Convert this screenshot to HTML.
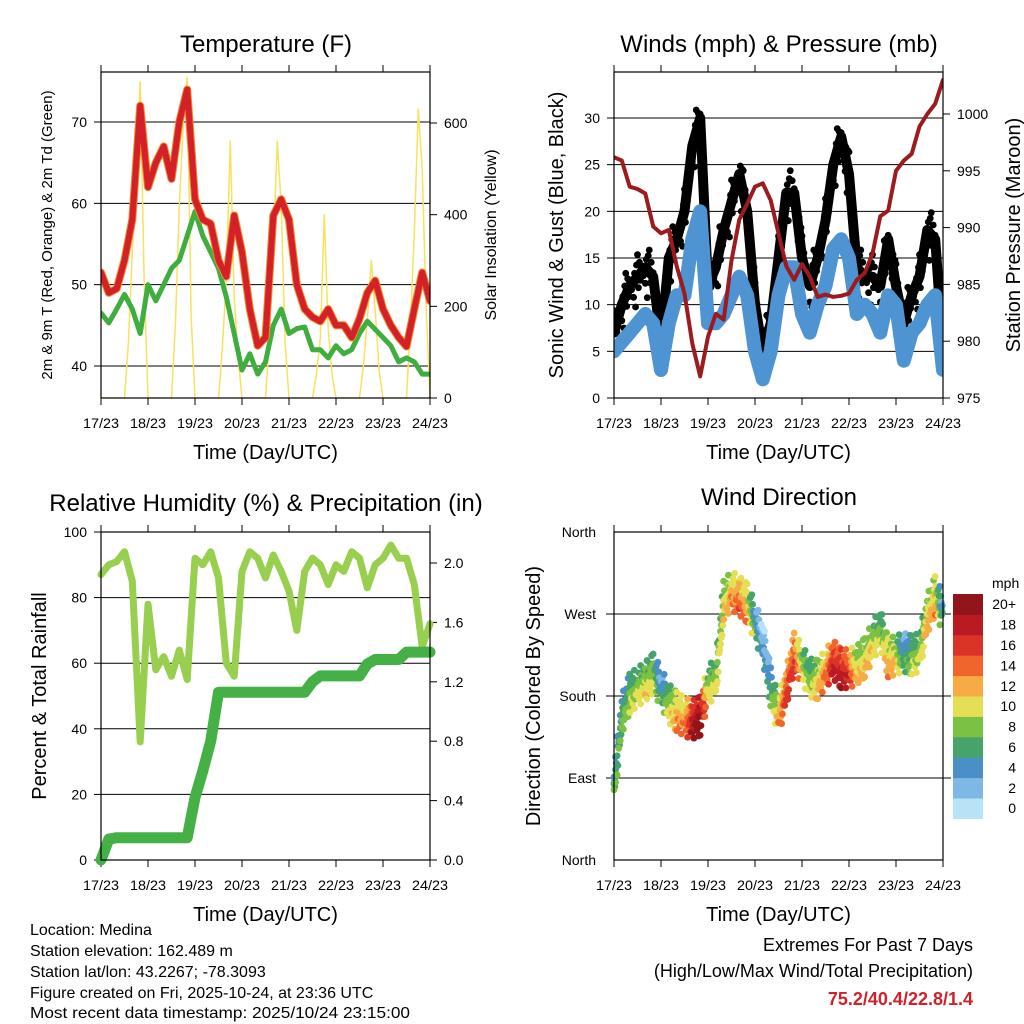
<!DOCTYPE html>
<html><head><meta charset="utf-8"><style>
html,body{margin:0;padding:0;background:#fff;}
svg{display:block;font-family:"Liberation Sans",sans-serif;}
</style></head><body>
<svg id="fig" width="1024" height="1024" viewBox="0 0 1024 1024" xmlns="http://www.w3.org/2000/svg">
<g id="g-p1"></g>
<g id="g-p2"></g>
<g id="g-p3"></g>
<g id="g-p4"></g>
<g font-size="16" fill="#000">
<text x="30" y="935">Location: Medina</text>
<text x="30" y="956">Station elevation: 162.489 m</text>
<text x="30" y="977">Station lat/lon: 43.2267; -78.3093</text>
<text x="30" y="998">Figure created on Fri, 2025-10-24, at 23:36 UTC</text>
<text x="30" y="1018" textLength="380" lengthAdjust="spacingAndGlyphs">Most recent data timestamp: 2025/10/24 23:15:00</text>
</g>
<g text-anchor="end">
<text x="973" y="951" font-size="18">Extremes For Past 7 Days</text>
<text x="973" y="977" font-size="18">(High/Low/Max Wind/Total Precipitation)</text>
<text x="973" y="1005" font-size="18" font-weight="bold" fill="#d0202a">75.2/40.4/22.8/1.4</text>
</g>
</svg>
<script>
// shared x categories (days, 4-hour steps 0..42)
const dayLabels=['17/23','18/23','19/23','20/23','21/23','22/23','23/23','24/23'];
// temperature (F), 4-hourly
const tempT=[51.5,49,49.5,53,58,72,62,65,67,63,70,74,60.5,58,57.5,53,51,58.5,54,47,42.5,43.5,58.5,60.5,58,50,47,46,45.5,47,45,45,43.5,45.8,49,50.5,47,45,43.5,42.4,47,51.5,48];
const tempTd=[46.5,45.3,47,48.8,47,44,50,48,50,52,53,56,59,56,54,52,48.5,44,39.5,41.5,39,40.5,45,47,44,44.6,44.8,42,42,41,42.5,41.5,42,44,45.5,44.5,43.5,42.5,40.5,41,40.5,39,39];
// solar insolation, 2-hourly (0..84)
const solar=[0,0,0,0,0,0,0,120,320,520,690,260,0,0,0,0,0,0,0,160,420,600,700,180,0,0,0,0,0,0,0,110,260,560,220,90,0,0,0,0,0,0,0,130,330,560,420,120,0,0,0,0,0,0,0,50,130,400,150,50,0,0,0,0,0,0,0,70,170,300,190,60,0,0,0,0,0,0,0,160,360,630,500,200,0];
// winds (mph), 4-hourly
const windSus=[5,6,7,8,9,8,3,8,11,11,17,20,8,8,9,11,13,11,5,2,5,11,14,14,9,7,10,12,16,17,15,9,10,9,7,11,10,4,7,8,10,11,3];
const windGust=[7,10,12,13,14,13,6,15,17,20,27,30,12,14,18,21,24,20,10,5,8,15,22,22,15,12,15,19,25,28,24,14,13,13,12,17,12,8,11,13,18,17,5];
// station pressure (mb)
const pressure=[996.2,995.9,993.6,993.4,993,990.1,989.5,989.8,986.6,984.2,979.8,976.9,980.4,982.4,981.9,987.1,990.7,992.1,993.6,993.9,992.4,989.5,986.6,985.4,986.8,985.7,983.9,984.1,983.9,984,984.2,985.4,986,987.7,991,991.5,995,995.9,996.5,998.9,1000,1000.9,1003];
// relative humidity (%) and precipitation (in)
const rh=[87,90,91,94,85,36,78,58,62,56,64,55,92,90,94,86,60,56,88,94,92,86,93,88,82,70,88,92,90,84,90,88,94,92,83,90,92,96,92,92,84,65,72];
const precip=[0,0.14,0.15,0.15,0.15,0.15,0.15,0.15,0.15,0.15,0.15,0.15,0.42,0.6,0.8,1.13,1.13,1.13,1.13,1.13,1.13,1.13,1.13,1.13,1.13,1.13,1.13,1.2,1.24,1.24,1.24,1.24,1.24,1.24,1.32,1.35,1.35,1.35,1.35,1.4,1.4,1.4,1.4];
// wind direction (deg)
const windDir=[84,160,183,190,196,205,190,172,163,157,154,158,192,200,285,296,290,282,262,240,190,158,190,228,215,200,198,210,220,210,210,214,222,240,255,222,225,228,225,228,270,290,272];
// colorbar
const speedLevels=['0','2','4','6','8','10','12','14','16','18','20+'];
const speedColors=['#b8e2f6','#7db9e4','#4a8fc7','#46a46b','#7bc143','#e5df55','#f6ab45','#f0652c','#dc3328','#ba1b23','#921519'];
const tempTicks=[40,50,60,70];
const solarTicks=[0,200,400,600];
const windTicks=[0,5,10,15,20,25,30];
const presTicks=[975,980,985,990,995,1000];
const rhTicks=[0,20,40,60,80,100];
const precipTicks=[0,0.4,0.8,1.2,1.6,2.0];
const dirTicks=[0,90,180,270,360];
const dirNames=['North','East','South','West','North'];

const NS='http://www.w3.org/2000/svg';
function mk(parent,tag,attrs,text){const e=document.createElementNS(NS,tag);for(const k in attrs)e.setAttribute(k,attrs[k]);if(text!==undefined)e.textContent=text;parent.appendChild(e);return e;}
function lin(d0,d1,r0,r1){return v=>r0+(v-d0)*(r1-r0)/(d1-d0);}

function axesFrame(g,P){
  const xs=lin(0,7,P.x0,P.x1);
  dayLabels.forEach((lab,i)=>{
    const x=xs(i);
    const tk=mk(g,'line',{x1:x,y1:P.y1,x2:x,y2:P.y1+7,stroke:'#000','stroke-width':1});
    
    
    const tt=mk(g,'line',{x1:x,y1:P.y0,x2:x,y2:P.y0-7,stroke:'#000','stroke-width':1});
    
    
    const t=mk(g,'text',{x:x,y:P.y1+30,'font-size':14,'text-anchor':'middle',textLength:36,lengthAdjust:'spacingAndGlyphs'},lab);
    
    
  });
  const xl=mk(g,'text',{x:(P.x0+P.x1)/2,y:P.y1+61,'font-size':20,'text-anchor':'middle'},'Time (Day/UTC)');
  
  
  return xs;
}
function frameRect(g,P){
  const r=mk(g,'rect',{x:P.x0,y:P.y0,width:P.x1-P.x0,height:P.y1-P.y0,fill:'none',stroke:'#000','stroke-width':1.2});
  
  
}
function leftAxis(g,P,ticks,sc,fmt,grid){
  ticks.forEach(v=>{
    const y=sc(v);
    if(grid&&y>P.y0+1&&y<P.y1-1){const gl=mk(g,'line',{x1:P.x0,y1:y,x2:P.x1,y2:y,stroke:'#000','stroke-width':1});
      
      }
    const tk=mk(g,'line',{x1:P.x0-7,y1:y,x2:P.x0,y2:y,stroke:'#000'});
    
    
    const t=mk(g,'text',{x:P.x0-14,y:y+5,'font-size':14,'text-anchor':'end'},fmt(v));
    
    
  });
}
function rightAxis(g,P,ticks,sc,fmt){
  ticks.forEach(v=>{
    const y=sc(v);
    const tk=mk(g,'line',{x1:P.x1,y1:y,x2:P.x1+7,y2:y,stroke:'#000'});
    
    
    const t=mk(g,'text',{x:P.x1+14,y:y+5,'font-size':14,'text-anchor':'start'},fmt(v));
    
    
  });
}
function title(g,x,y,s){const t=mk(g,'text',{x:x,y:y,'font-size':24,'text-anchor':'middle'},s);
  
  }
function vlabel(g,x,y,s,fs,name){const t=mk(g,'text',{x:x,y:y,'font-size':fs,'text-anchor':'middle',transform:'rotate(-90 '+x+' '+y+')'},s);
  
  }
function poly(g,arr,xs,ys,step,color,w,name){
  const pts=arr.map((v,i)=>xs(i*step).toFixed(1)+','+ys(v).toFixed(1)).join(' ');
  const p=mk(g,'polyline',{points:pts,fill:'none',stroke:color,'stroke-width':w,'stroke-linejoin':'round','stroke-linecap':'round'});
  
  
  return p;
}
const S4=1/6, S2=1/12;

// ---------- Panel 1: temperature ----------
(function(){
  const g=document.getElementById('g-p1');
  const P={x0:101,x1:430,y0:72,y1:398};
  const xs=axesFrame(g,P);
  const yT=lin(40,70,366,122), yS=lin(0,600,398,123);
  leftAxis(g,P,tempTicks,yT,v=>String(v),true);
  rightAxis(g,P,solarTicks,yS,v=>String(v));
  const clip=mk(g,'clipPath',{id:'c1'});mk(clip,'rect',{x:P.x0,y:P.y0,width:P.x1-P.x0,height:P.y1-P.y0});
  const d=mk(g,'g',{'clip-path':'url(#c1)'});
  poly(d,solar,xs,yS,S2,'#f9e05e',1.5,'solar-insolation-line');
  poly(d,tempTd,xs,yT,S4,'#3fae3f',5,'dewpoint-line');
  poly(d,tempT,xs,yT,S4,'#f08a2c',8,'temp-9m-line');
  poly(d,tempT,xs,yT,S4,'#d42027',6,'temp-2m-line');
  frameRect(g,P);
  title(g,266,52,'Temperature (F)');
  vlabel(g,52,235,'2m & 9m T (Red, Orange) & 2m Td (Green)',15,'y-axis-title');
  vlabel(g,496,235,'Solar Insolation (Yellow)',16,'right-y-axis-title');
})();

// ---------- Panel 2: winds & pressure ----------
(function(){
  const g=document.getElementById('g-p2');
  const P={x0:614,x1:943,y0:72,y1:398};
  const xs=axesFrame(g,P);
  const yW=lin(0,30,398,118), yP=lin(975,1000,398,114);
  leftAxis(g,P,windTicks,yW,v=>String(v),true);
  rightAxis(g,P,presTicks,yP,v=>String(v));
  const clip=mk(g,'clipPath',{id:'c2'});mk(clip,'rect',{x:P.x0,y:P.y0,width:P.x1-P.x0,height:P.y1-P.y0});
  const d=mk(g,'g',{'clip-path':'url(#c2)'});
  poly(d,windGust,xs,yW,S4,'#000',10,'gust-line');
  const offs=[-22,-12,-4,6,16,28];
  for(let i=0;i<windGust.length-1;i++){
    for(let k=0;k<4;k++){
      const f=k/4, v=windGust[i]*(1-f)+windGust[i+1]*f;
      const o=offs[(i*4+k)%offs.length];
      const c=mk(d,'circle',{cx:xs((i+f)*S4),cy:yW(v)+o,r:3.4,fill:'#000'});
      
      
      const c2=mk(d,'circle',{cx:xs((i+f+0.12)*S4),cy:yW(v)-o*0.5,r:3.4,fill:'#000'});
      
      
    }
  }
  poly(d,windSus,xs,yW,S4,'#4e94d2',14,'sustained-wind-line');
  poly(d,pressure,xs,yP,S4,'#9b1b1f',4,'pressure-line');
  frameRect(g,P);
  title(g,779,52,'Winds (mph) & Pressure (mb)');
  vlabel(g,563,235,'Sonic Wind & Gust (Blue, Black)',20,'y-axis-title');
  vlabel(g,1020,235,'Station Pressure (Maroon)',20,'right-y-axis-title');
})();

// ---------- Panel 3: RH & precip ----------
(function(){
  const g=document.getElementById('g-p3');
  const P={x0:101,x1:430,y0:532,y1:860};
  const xs=axesFrame(g,P);
  const yR=lin(0,100,860,532), yPr=lin(0,2,860,563);
  leftAxis(g,P,rhTicks,yR,v=>String(v),true);
  rightAxis(g,P,precipTicks,yPr,v=>v.toFixed(1));
  const clip=mk(g,'clipPath',{id:'c3'});mk(clip,'rect',{x:P.x0-6,y:P.y0,width:P.x1-P.x0+12,height:P.y1-P.y0+6});
  const d=mk(g,'g',{'clip-path':'url(#c3)'});
  poly(d,rh,xs,yR,S4,'#98cf4f',7,'relative-humidity-line');
  poly(d,precip,xs,yPr,S4,'#45b045',11,'precipitation-line');
  frameRect(g,P);
  title(g,266,511,'Relative Humidity (%) & Precipitation (in)');
  vlabel(g,46,696,'Percent & Total Rainfall',20,'y-axis-title');
})();

// ---------- Panel 4: wind direction ----------
(function(){
  const g=document.getElementById('g-p4');
  const P={x0:614,x1:943,y0:532,y1:860};
  const xs=axesFrame(g,P);
  const yD=lin(0,360,860,532);
  dirTicks.forEach((v,i)=>{
    const y=yD(v);
    if(y>P.y0+1&&y<P.y1-1){const gl=mk(g,'line',{x1:P.x0-8,y1:y,x2:P.x1+8,y2:y,stroke:'#000'});
      
      }
    const t=mk(g,'text',{x:P.x0-18,y:y+5,'font-size':14,'text-anchor':'end'},dirNames[i]);
    
    
  });
  const col=s=>speedColors[Math.max(0,Math.min(10,Math.round(s/2)))];
  const d=mk(g,'g',{});
  const offs=[-16,-8,0,8,16];
  for(let i=0;i<windDir.length-1;i++){
    for(let k=0;k<5;k++){
      const f=k/5, v=windDir[i]*(1-f)+windDir[i+1]*f, s=windSus[i]*(1-f)+windSus[i+1]*f;
      offs.forEach((o,j)=>{
        const c=mk(d,'circle',{cx:xs((i+f+(j%2)*0.1)*S4),cy:yD(v)+o*(((i+k)%3)*0.4+0.4),r:3.4,fill:col(s+o/8)});
        
        
      });
    }
  }
  frameRect(g,P);
  title(g,779,505,'Wind Direction');
  vlabel(g,540,696,'Direction (Colored By Speed)',20,'y-axis-title');
  const cb=mk(g,'g',{});
  
  
  const h=20.4, top=594;
  speedLevels.forEach((lab,i)=>{
    const y=top+(speedLevels.length-1-i)*h;
    const r=mk(cb,'rect',{x:953,y:y,width:30,height:h+0.5,fill:speedColors[i]});
    
    
    const t=mk(cb,'text',{x:1016,y:y+h/2+5,'font-size':14,'text-anchor':'end'},lab);
    
    
  });
  const m=mk(cb,'text',{x:992,y:588,'font-size':14},'mph');
  
  
})();
</script>
</body></html>
